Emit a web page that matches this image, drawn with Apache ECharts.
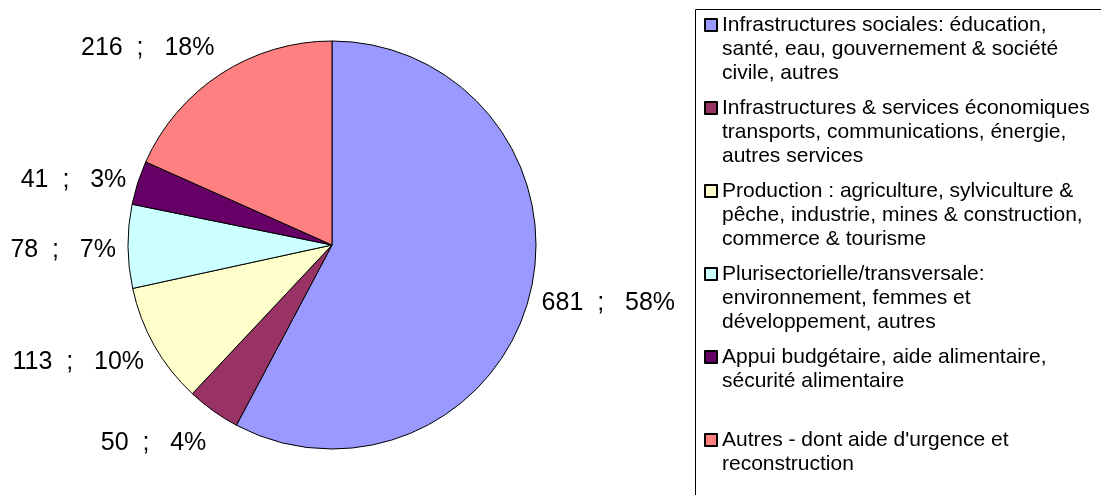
<!DOCTYPE html>
<html>
<head>
<meta charset="utf-8">
<script src="https://cdn.jsdelivr.net/npm/echarts@6/dist/echarts.min.js"></script>
<style>
  html, body { margin: 0; padding: 0; background: #fff; }
  #chart { width: 1101px; height: 495px; }
</style>
</head>
<body>
<div id="chart"></div>
<script>
// categories (legend text, line breaks as in the picture)
const categories = [
  "Infrastructures sociales: éducation,\nsanté, eau, gouvernement & société\ncivile, autres",
  "Infrastructures & services économiques\ntransports, communications, énergie,\nautres services",
  "Production : agriculture, sylviculture &\npêche, industrie, mines & construction,\ncommerce & tourisme",
  "Plurisectorielle/transversale:\nenvironnement, femmes et\ndéveloppement, autres",
  "Appui budgétaire, aide alimentaire,\nsécurité alimentaire\n",
  "Autres - dont aide d'urgence et\nreconstruction\n"
];
const values = [681, 50, 113, 78, 41, 216];
const colors = ["#9999FF", "#993366", "#FFFFCC", "#CCFFFF", "#660066", "#FF8080"];

const CX = 332, CY = 245, R = 204, LINE_LEN = 12;
const FONT = "'Liberation Sans', Arial, sans-serif";
const LH = 24; // legend line height

let myChart = echarts.init(document.getElementById("chart"));

myChart.setOption({
  animation: false,
  color: colors,
  textStyle: { fontFamily: FONT },
  graphic: [
    {
      // legend frame
      type: "rect",
      shape: { x: 695.5, y: 9.5, width: 500, height: 600 },
      style: { fill: "none", stroke: "#000", lineWidth: 1 },
      silent: true
    }
  ],
  legend: {
    orient: "vertical",
    left: 704,
    top: -35,
    height: 900,
    padding: 0,
    itemWidth: 12,
    itemHeight: 12,
    itemGap: 83 - 5 * LH,
    icon: "rect",
    selectedMode: false,
    textStyle: {
      color: "#000",
      fontSize: 21,
      fontFamily: FONT,
      lineHeight: LH
    },
    // two blank lines on top so the icon sits next to the first line
    formatter: (name) => "\n\n" + name,
    data: categories
  },
  series: [
    {
      type: "pie",
      center: [CX, CY],
      radius: R,
      startAngle: 90,
      clockwise: true,
      avoidLabelOverlap: false,
      percentPrecision: 0,
      itemStyle: { borderColor: "#000", borderWidth: 1 },
      emphasis: { disabled: true },
      label: {
        show: true,
        position: "outside",
        color: "#000",
        fontSize: 25,
        fontFamily: FONT,
        distanceToLabelLine: 0,
        formatter: (p) => p.value + "  ;   " + Math.round(p.percent) + "%"
      },
      labelLine: { show: false, length: LINE_LEN, length2: 0 },
      labelLayout: function (p) {
        // push top/bottom labels away from the pie, like the original
        const ly = p.labelRect.y + p.labelRect.height / 2;
        const t = (ly - CY) / (R + LINE_LEN);
        return { dy: 28 * t * Math.abs(t) + 4 };
      },
      data: categories.map((c, i) => ({ name: c, value: values[i] }))
    }
  ]
});

window.addEventListener("resize", () => {
  myChart.resize();
});
</script>
</body>
</html>
